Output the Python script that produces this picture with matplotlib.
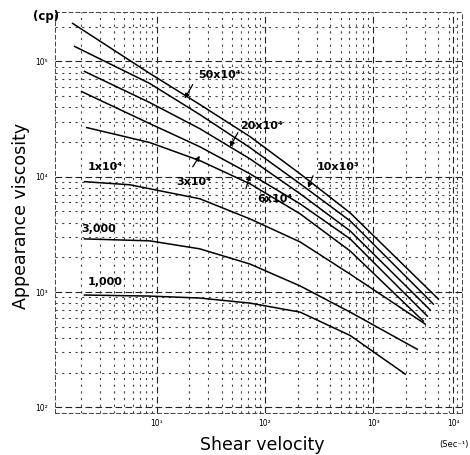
import numpy as np
import matplotlib
matplotlib.use("Agg")
import matplotlib.pyplot as plt
from matplotlib.ticker import NullFormatter

# --- data ---
labels = ["50x10⁴", "20x10⁴", "10x10³", "6x10⁴", "3x10⁴", "1x10⁴", "3,000", "1,000"]
shear = {
    "50x10⁴": [1.67, 8.61, 25.0, 72.6, 211, 612, 4000],
    "20x10⁴": [1.74, 8.61, 25.0, 72.6, 211, 612, 3590],
    "10x10³": [2.15, 8.61, 25.0, 72.6, 211, 612, 3370],
    "6x10⁴": [2.02, 8.61, 25.0, 72.6, 211, 612, 3160],
    "3x10⁴": [2.25, 8.61, 25.0, 72.6, 211, 612, 2900],
    "1x10⁴": [2.15, 5.62, 25.0, 72.6, 211, 612, 3030],
    "3,000": [2.15, 8.61, 25.0, 72.6, 211, 612, 2550],
    "1,000": [2.15, 8.61, 25.0, 72.6, 211, 612, 1980],
}
viscosity = {
    "50x10⁴": [213800, 78700, 42300, 22300, 10600, 4860, 869],
    "20x10⁴": [135000, 64400, 34600, 17900, 8690, 4140, 787],
    "10x10³": [81900, 44000, 26100, 14300, 7120, 3390, 697],
    "6x10⁴": [54800, 28900, 18200, 10600, 5820, 2890, 618],
    "3x10⁴": [26700, 19800, 13800, 8690, 4770, 2270, 560],
    "1x10⁴": [9060, 8520, 6440, 4310, 2720, 1430, 527],
    "3,000": [2890, 2780, 2370, 1750, 1130, 670, 319],
    "1,000": [942, 923, 887, 802, 670, 420, 194],
}
x_ticks = [10, 100, 1000, 10 ** 3.74]
x_tick_labels = ["10¹", "10²", "10³", "10⁴"]
y_ticks = [1e2, 1e3, 1e4, 1e5]
y_tick_labels = ["10²", "10³", "10⁴", "10⁵"]

fig = plt.figure(figsize=(4.70, 4.55), dpi=100)
ax = fig.add_axes([0.117, 0.092, 0.866, 0.882])
ax.set_xscale("log")
ax.set_yscale("log")
ax.set_xlim(10 ** 0.06, 10 ** 3.82)
ax.set_ylim(10 ** 1.95, 10 ** 5.43)

ax.grid(True, which="major", color="#222222", linestyle=(0, (6, 3)), linewidth=0.8)
ax.grid(True, which="minor", color="#444444", linestyle=(0, (2, 4)), linewidth=0.8)
for s in ax.spines.values():
    s.set_linestyle((0, (4, 3)))
    s.set_linewidth(0.7)
    s.set_color("#444444")
ax.tick_params(which="both", length=0)

for lab in labels:
    ax.plot(shear[lab], viscosity[lab], color="black", linewidth=1.1)

ax.set_xticks(x_ticks)
ax.set_xticklabels(x_tick_labels, fontsize=5.5)
ax.set_yticks(y_ticks)
ax.set_yticklabels(y_tick_labels, fontsize=5.5)
ax.xaxis.set_minor_formatter(NullFormatter())
ax.yaxis.set_minor_formatter(NullFormatter())
ax.tick_params(axis="y", pad=5)
ax.tick_params(axis="x", pad=4)

fig.text(0.557, 0.022, "Shear velocity", fontsize=12.5, ha="center", va="center")
fig.text(0.045, 0.525, "Appearance viscosity", fontsize=12.5, ha="center",
         va="center", rotation=90)
fig.text(0.998, 0.022, "(Sec⁻¹)", fontsize=6, ha="right", va="center")
fig.text(0.07, 0.963, "(cp)", fontsize=8.5, fontweight="bold", ha="left", va="center")

kw = dict(fontsize=8, fontweight="bold", ha="left", va="center")
arrow = dict(arrowstyle="-|>", color="black", lw=0.9, mutation_scale=7,
             shrinkA=0, shrinkB=0)
ax.text(24, 75500, "50x10⁴", **kw)
ax.annotate("", xy=(18.1, 47600), xytext=(21.5, 63000), arrowprops=arrow)
ax.text(58.8, 27700, "20x10⁴", **kw)
ax.annotate("", xy=(47.4, 18200), xytext=(56.2, 24100), arrowprops=arrow)
ax.text(15.3, 9060, "3x10⁴", **kw)
ax.annotate("", xy=(25, 15200), xytext=(21.5, 12200), arrowprops=arrow)
ax.text(84, 6440, "6x10⁴", **kw)
ax.annotate("", xy=(72.6, 10400), xytext=(66.7, 7870), arrowprops=arrow)
ax.text(303, 12200, "10x10³", **kw)
ax.annotate("", xy=(250, 8010), xytext=(278, 10200), arrowprops=arrow)
ax.text(2.30, 12200, "1x10⁴", **kw)
ax.text(2.02, 3530, "3,000", **kw)
ax.text(2.30, 1220, "1,000", **kw)

fig.savefig("out.png", dpi=100)
